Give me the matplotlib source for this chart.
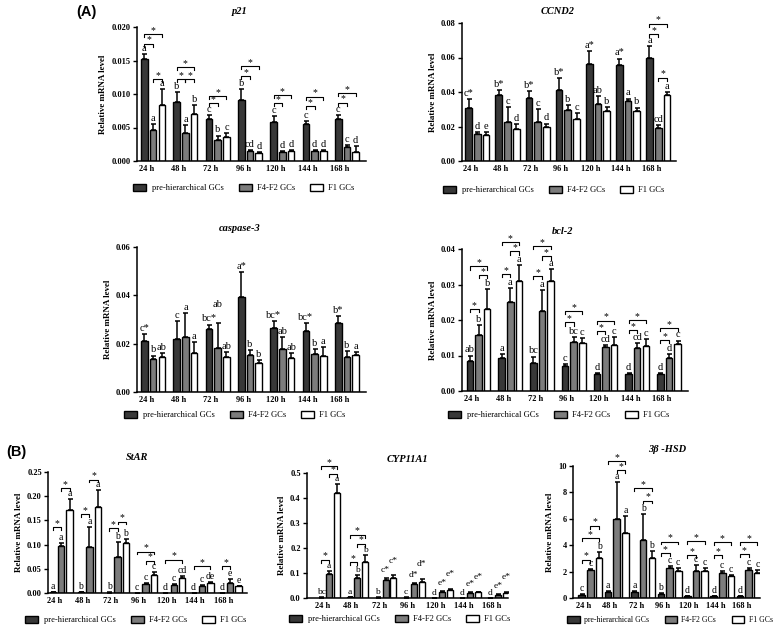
import matplotlib
matplotlib.use('Agg')
import matplotlib.pyplot as plt
from matplotlib.patches import Patch

W, H = 782, 626

times = ['24 h', '48 h', '72 h', '96 h', '120 h', '144 h', '168 h']
series_names = ['pre-hierarchical GCs', 'F4-F2 GCs', 'F1 GCs']
bar_colors = ['#383838', '#7c7c7c', '#ffffff']

# ---------------- p21 ----------------
p21_pre = [0.0152, 0.0088, 0.0062, 0.0091, 0.0058, 0.0055, 0.0063]
p21_pre_err = [0.0008, 0.0015, 0.0006, 0.0016, 0.0009, 0.0004, 0.0005]
p21_f4 = [0.0047, 0.0042, 0.0031, 0.0015, 0.0014, 0.0015, 0.0021]
p21_f4_err = [0.0008, 0.0011, 0.0007, 0.0001, 0.0001, 0.0001, 0.0003]
p21_f1 = [0.0083, 0.0070, 0.0036, 0.0012, 0.0015, 0.0015, 0.0013]
p21_f1_err = [0.0024, 0.0014, 0.0006, 0.0002, 0.0002, 0.0002, 0.0009]
p21_letters = [['a', 'b', 'c', 'b', 'c', 'c', 'c'],
               ['a', 'a', 'b', 'cd', 'd', 'd', 'c'],
               ['a', 'b', 'c', 'd', 'd', 'd', 'd']]
p21_brackets = [(0, 0, 1, 0.0175), (0, 0, 2, 0.0189), (0, 1, 2, 0.0122),
                (1, 0, 1, 0.0122), (1, 1, 2, 0.0122), (1, 0, 2, 0.0140),
                (2, 0, 1, 0.0086), (2, 0, 2, 0.0097),
                (3, 0, 1, 0.0127), (3, 0, 2, 0.0142),
                (4, 0, 1, 0.0086), (4, 0, 2, 0.0098),
                (5, 0, 1, 0.0082), (5, 0, 2, 0.0096),
                (6, 0, 1, 0.0087), (6, 0, 2, 0.0101)]

# ---------------- CCND2 ----------------
ccnd2_pre = [0.0308, 0.0383, 0.0367, 0.0412, 0.0562, 0.0558, 0.0600]
ccnd2_pre_err = [0.0050, 0.0029, 0.0037, 0.0071, 0.0075, 0.0036, 0.0067]
ccnd2_f4 = [0.0156, 0.0225, 0.0227, 0.0298, 0.0331, 0.0350, 0.0192]
ccnd2_f4_err = [0.0011, 0.0087, 0.0073, 0.0025, 0.0048, 0.0012, 0.0014]
ccnd2_f1 = [0.0152, 0.0183, 0.0198, 0.0244, 0.0287, 0.0292, 0.0381]
ccnd2_f1_err = [0.0015, 0.0029, 0.0019, 0.0033, 0.0026, 0.0018, 0.0019]
ccnd2_letters = [['c*', 'b*', 'b*', 'b*', 'a*', 'a*', 'a'],
                 ['d', 'c', 'c', 'b', 'ab', 'a', 'cd'],
                 ['e', 'd', 'd', 'c', 'b', 'b', 'a']]
ccnd2_brackets = [(6, 0, 1, 0.0735), (6, 0, 2, 0.0796), (6, 1, 2, 0.0483)]

# ---------------- caspase-3 ----------------
casp_pre = [0.0212, 0.0220, 0.0260, 0.0393, 0.0263, 0.0254, 0.0285]
casp_pre_err = [0.0026, 0.0074, 0.0019, 0.0103, 0.0031, 0.0031, 0.0028]
casp_f4 = [0.0136, 0.0227, 0.0183, 0.0155, 0.0177, 0.0159, 0.0144]
casp_f4_err = [0.0015, 0.0100, 0.0103, 0.0017, 0.0050, 0.0018, 0.0025]
casp_f1 = [0.0143, 0.0162, 0.0143, 0.0120, 0.0140, 0.0150, 0.0153]
casp_f1_err = [0.0018, 0.0046, 0.0022, 0.0012, 0.0021, 0.0036, 0.0011]
casp_letters = [['c*', 'c', 'bc*', 'a*', 'bc*', 'bc*', 'b*'],
                ['b', 'a', 'ab', 'b', 'ab', 'b', 'b'],
                ['ab', 'a', 'ab', 'b', 'ab', 'a', 'a']]
casp_brackets = []

# ---------------- bcl-2 ----------------
bcl2_pre = [0.0084, 0.0092, 0.0079, 0.0071, 0.0048, 0.0047, 0.0048]
bcl2_pre_err = [0.0016, 0.0011, 0.0018, 0.0006, 0.0003, 0.0003, 0.0003]
bcl2_f4 = [0.0158, 0.0250, 0.0225, 0.0139, 0.0124, 0.0122, 0.0094]
bcl2_f4_err = [0.0028, 0.0041, 0.0060, 0.0012, 0.0006, 0.0014, 0.0009]
bcl2_f1 = [0.0230, 0.0310, 0.0310, 0.0135, 0.0130, 0.0126, 0.0131]
bcl2_f1_err = [0.0057, 0.0045, 0.0034, 0.0014, 0.0022, 0.0021, 0.0011]
bcl2_letters = [['ab', 'a', 'bc', 'c', 'd', 'd', 'd'],
                ['b', 'a', 'a', 'bc', 'cd', 'cd', 'd'],
                ['b', 'a', 'a', 'c', 'c', 'c', 'c']]
bcl2_brackets = [(0, 0, 1, 0.0230), (0, 1, 2, 0.0326), (0, 0, 2, 0.0351),
                 (1, 0, 1, 0.0330), (1, 1, 2, 0.0393), (1, 0, 2, 0.0420),
                 (2, 0, 1, 0.0323), (2, 1, 2, 0.0379), (2, 0, 2, 0.0408),
                 (3, 0, 1, 0.0193), (3, 0, 2, 0.0225),
                 (4, 0, 1, 0.0169), (4, 0, 2, 0.0198),
                 (5, 0, 1, 0.0172), (5, 0, 2, 0.0200),
                 (6, 0, 1, 0.0143), (6, 0, 2, 0.0178)]

# ---------------- StAR ----------------
star_pre = [0.0020, 0.0012, 0.0010, 0.0006, 0.0005, 0.0004, 0.0004]
star_pre_err = [0.0003, 0.0002, 0.0002, 0.0001, 0.0001, 0.0001, 0.0001]
star_f4 = [0.0973, 0.0959, 0.0740, 0.0178, 0.0158, 0.0137, 0.0205]
star_f4_err = [0.0054, 0.0404, 0.0322, 0.0021, 0.0027, 0.0021, 0.0083]
star_f1 = [0.1705, 0.1767, 0.1034, 0.0377, 0.0308, 0.0205, 0.0137]
star_f1_err = [0.0240, 0.0356, 0.0076, 0.0048, 0.0048, 0.0021, 0.0014]
star_letters = [['a', 'b', 'b', 'c', 'd', 'd', 'd'],
                ['a', 'a', 'b', 'c', 'c', 'c', 'e'],
                ['a', 'a', 'b', 'c', 'cd', 'de', 'e']]
star_brackets = [(0, 0, 1, 0.1356), (0, 1, 2, 0.2171),
                 (1, 0, 1, 0.1630), (1, 1, 2, 0.2342),
                 (2, 0, 1, 0.1336), (2, 1, 2, 0.1473),
                 (3, 1, 2, 0.0664), (3, 0, 2, 0.0856),
                 (4, 0, 2, 0.0685), (5, 0, 2, 0.0548), (6, 0, 1, 0.0548)]

# ---------------- CYP11A1 ----------------
cyp_pre = [0.002, 0.003, 0.002, 0.002, 0.001, 0.001, 0.001]
cyp_pre_err = [0.0005, 0.0005, 0.0005, 0.0005, 0.0005, 0.0005, 0.0005]
cyp_f4 = [0.0973, 0.0813, 0.0720, 0.0547, 0.0240, 0.0200, 0.0133]
cyp_f4_err = [0.0107, 0.0120, 0.0080, 0.0053, 0.0040, 0.0040, 0.0027]
cyp_f1 = [0.421, 0.144, 0.0813, 0.0627, 0.0333, 0.0227, 0.0213]
cyp_f1_err = [0.035, 0.028, 0.0094, 0.0133, 0.0040, 0.0026, 0.0027]
cyp_letters = [['bc', 'a', 'b', 'c', 'd', 'd', 'd'],
               ['a', 'b', 'c*', 'd*', 'e*', 'e*', 'e*'],
               ['a', 'b', 'c*', 'd*', 'e*', 'e*', 'e*']]
cyp_brackets = [(0, 0, 1, 0.153), (0, 1, 2, 0.497), (0, 0, 2, 0.527),
                (1, 0, 1, 0.143), (1, 1, 2, 0.217), (1, 0, 2, 0.253)]

# ---------------- 3beta-HSD ----------------
hsd_pre = [0.25, 0.48, 0.45, 0.33, 0.15, 0.13, 0.15]
hsd_pre_err = [0.03, 0.05, 0.05, 0.07, 0.02, 0.02, 0.02]
hsd_f4 = [2.09, 6.02, 4.41, 2.24, 2.04, 1.91, 2.14]
hsd_f4_err = [0.13, 2.75, 1.94, 0.15, 0.43, 0.11, 0.13]
hsd_f1 = [3.05, 4.89, 3.02, 2.02, 2.02, 1.64, 1.91]
hsd_f1_err = [0.43, 1.31, 0.51, 0.25, 0.27, 0.12, 0.18]
hsd_letters = [['c', 'a', 'a', 'b', 'd', 'd', 'd'],
               ['c', 'a', 'b', 'c', 'c', 'c', 'c'],
               ['b', 'a', 'b', 'c', 'c', 'c', 'c']]
hsd_brackets = [(0, 0, 1, 2.90), (0, 0, 2, 4.53), (0, 1, 2, 5.47),
                (1, 1, 2, 9.70), (1, 0, 2, 10.38),
                (2, 1, 2, 7.38), (2, 0, 2, 8.31),
                (3, 0, 1, 3.40), (3, 0, 2, 4.28),
                (4, 0, 1, 3.27), (4, 0, 2, 4.31),
                (5, 0, 1, 3.22), (5, 0, 2, 4.23),
                (6, 0, 1, 3.32), (6, 0, 2, 4.23)]

SERIF = ['Liberation Serif', 'DejaVu Serif']
plt.rcParams['font.family'] = SERIF

fig = plt.figure(figsize=(W / 100, H / 100), dpi=100)


def draw_chart(box, xlim, off, ymax, ystep, fmt, means, errs, letters, brackets,
               title, title_xy, legend_xy, pads=(0.008, 0.008, 0.008), lifts=None,
               letter_size=7.5, legend_size=6.1, colspace=1.8):
    l, t, r, b = box
    ax = fig.add_axes([l / W, 1 - b / H, (r - l) / W, (b - t) / H])
    width = off * 0.76
    n = len(times)
    lifts = lifts or {}
    for k in range(3):
        xs = [i + (k - 1) * off for i in range(n)]
        ax.bar(xs, means[k], width=width, color=bar_colors[k], edgecolor='black',
               linewidth=1.0, zorder=2)
        ax.errorbar(xs, means[k], yerr=[[0] * n, errs[k]], fmt='none', ecolor='black',
                    elinewidth=1.1, capsize=1.8, capthick=1.1, zorder=3)
        for i in range(n):
            ytop = means[k][i] + errs[k][i]
            pad = pads[k] + lifts.get((k, i), 0.0)
            ax.text(xs[i], ytop + pad * ymax, letters[k][i], ha='center',
                    va='bottom', fontsize=letter_size, family=SERIF, zorder=4,
                    clip_on=False)
    d = 0.022 * ymax
    for (g, i, j, y) in brackets:
        x1 = g + (i - 1) * off
        x2 = g + (j - 1) * off
        ax.plot([x1, x1, x2, x2], [y - d, y, y, y - d], color='black', lw=0.8,
                clip_on=False, zorder=4)
        ax.text((x1 + x2) / 2, y - 0.006 * ymax, '*', ha='center', va='bottom',
                fontsize=7, family=SERIF, clip_on=False, zorder=4)
    ax.set_xlim(*xlim)
    ax.set_ylim(0, ymax)
    ticks = [ystep * m for m in range(int(round(ymax / ystep)) + 1)]
    ax.set_yticks(ticks)
    ax.set_yticklabels([fmt.format(v) for v in ticks], fontweight='bold', fontsize=6)
    ax.set_xticks([i - off * 0.8 for i in range(n)])
    ax.set_xticklabels(times, fontweight='bold', fontsize=6)
    ax.tick_params(axis='x', length=0, pad=3)
    ax.tick_params(axis='y', length=3, width=1, pad=1.5)
    for s in ['top', 'right']:
        ax.spines[s].set_visible(False)
    for s in ['left', 'bottom']:
        ax.spines[s].set_linewidth(1.1)
    ax.set_ylabel('Relative mRNA level', fontweight='bold', fontsize=6.5, labelpad=3)
    fig.text(title_xy[0] / W, 1 - title_xy[1] / H, title, ha='center', va='center',
             fontsize=7.5, fontweight='bold', fontstyle='italic', family=SERIF)
    handles = [Patch(facecolor=bar_colors[k], edgecolor='black', linewidth=1.0)
               for k in range(3)]
    fig.legend(handles, series_names, loc='center',
               bbox_to_anchor=(legend_xy[0] / W, 1 - legend_xy[1] / H),
               ncol=3, frameon=False, prop={'family': SERIF, 'size': legend_size},
               handlelength=1.55, handleheight=0.95, handletextpad=0.6,
               columnspacing=colspace, borderpad=0, borderaxespad=0)
    return ax


draw_chart((137, 27, 366, 161), (-0.5, 6.59), 0.27, 0.020, 0.005, '{:.3f}',
           [p21_pre, p21_f4, p21_f1], [p21_pre_err, p21_f4_err, p21_f1_err],
           p21_letters, p21_brackets, 'p21', (240, 11), (244, 188))
draw_chart((462, 23, 676, 161), (-0.51, 6.59), 0.29, 0.08, 0.02, '{:.2f}',
           [ccnd2_pre, ccnd2_f4, ccnd2_f1], [ccnd2_pre_err, ccnd2_f4_err, ccnd2_f1_err],
           ccnd2_letters, ccnd2_brackets, 'CCND2', (558, 11), (554, 190))
draw_chart((137, 247, 366, 392), (-0.5, 6.59), 0.27, 0.06, 0.02, '{:.2f}',
           [casp_pre, casp_f4, casp_f1], [casp_pre_err, casp_f4_err, casp_f1_err],
           casp_letters, casp_brackets, 'caspase-3', (240, 228), (235, 415),
           lifts={(1, 2): 0.09})
draw_chart((462, 249, 688, 391), (-0.52, 6.6), 0.27, 0.04, 0.01, '{:.2f}',
           [bcl2_pre, bcl2_f4, bcl2_f1], [bcl2_pre_err, bcl2_f4_err, bcl2_f1_err],
           bcl2_letters, bcl2_brackets, 'bcl-2', (563, 232), (559, 415))
draw_chart((48, 472, 247, 593), (-0.47, 6.6), 0.30, 0.25, 0.05, '{:.2f}',
           [star_pre, star_f4, star_f1], [star_pre_err, star_f4_err, star_f1_err],
           star_letters, star_brackets, 'StAR', (137, 457), (136, 620),
           letter_size=7)
draw_chart((307, 473, 508, 598), (-0.79, 6.35), 0.28, 0.5, 0.1, '{:.1f}',
           [cyp_pre, cyp_f4, cyp_f1], [cyp_pre_err, cyp_f4_err, cyp_f1_err],
           cyp_letters, cyp_brackets, 'CYP11A1', (407, 459), (400, 619),
           pads=(0.008, 0.03, 0.085), letter_size=6.8,
           lifts={(1, 0): -0.022, (1, 1): -0.022, (2, 0): -0.08, (2, 1): -0.08})
draw_chart((573, 466, 760, 598), (-0.66, 6.43), 0.33, 10, 2, '{:.0f}',
           [hsd_pre, hsd_f4, hsd_f1], [hsd_pre_err, hsd_f4_err, hsd_f1_err],
           hsd_letters, hsd_brackets, '3β -HSD', (667, 450), (670, 620),
           letter_size=7, legend_size=5.6, colspace=2.0)

fig.text(86 / W, 1 - 12 / H, '(A)', ha='center', va='center', fontsize=10.5,
         fontweight='bold', family=['Liberation Sans', 'DejaVu Sans'])
fig.text(16 / W, 1 - 452 / H, '(B)', ha='center', va='center', fontsize=10.5,
         fontweight='bold', family=['Liberation Sans', 'DejaVu Sans'])

fig.savefig('out.png', dpi=100)
